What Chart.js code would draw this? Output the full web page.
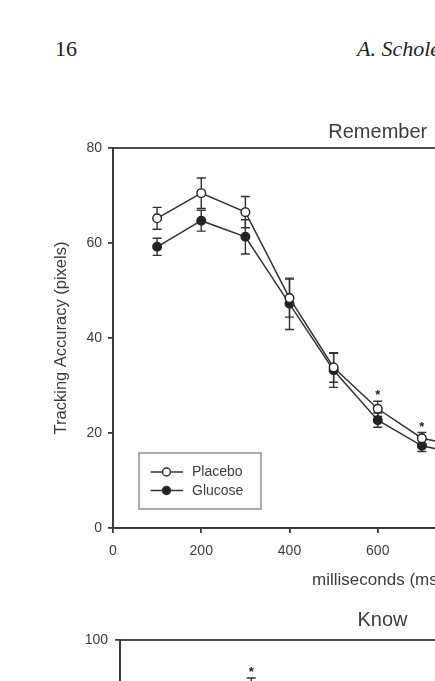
<!DOCTYPE html>
<html>
<head>
<meta charset="utf-8">
<script src="https://cdn.jsdelivr.net/npm/chart.js@4.4.0/dist/chart.umd.min.js"></script>
<style>
    html, body { margin: 0; padding: 0; width: 435px; height: 681px; overflow: hidden; background: #fff; }
    .page-text { position: absolute; font-family: "Liberation Serif", serif; font-size: 22px; line-height: 22px; color: #222; white-space: nowrap; }
    #pageNo { left: 55px; top: 38px; }
    #author { left: 357px; top: 38px; font-style: italic; }
    canvas { position: absolute; left: 0; }
    #rememberCanvas { top: 100px; }
    #knowCanvas { top: 592px; }
</style>
</head>
<body>
<div class="page-text" id="pageNo">16</div>
<div class="page-text" id="author">A. Scholey et al.</div>
<canvas id="rememberCanvas" width="760" height="498"></canvas>
<canvas id="knowCanvas" width="760" height="498"></canvas>
<script>
// Remember panel
var msValues = [100, 200, 300, 400, 500, 600, 700, 800];
var placeboRemember = [65.2, 70.5, 66.5, 48.4, 33.8, 25.1, 18.9, 17.0];
var placeboRememberErr = [2.3, 3.2, 3.3, 4.0, 3.1, 1.6, 1.2, 1.2];
var glucoseRemember = [59.2, 64.7, 61.3, 47.2, 33.2, 22.7, 17.3, 15.3];
var glucoseRememberErr = [1.8, 2.2, 3.6, 5.4, 3.6, 1.5, 1.2, 1.2];
var rememberStars = [600, 700];

// Know panel (only the top of it is on the page)
var knowMs = [300];
var placeboKnow = [86];
var placeboKnowErr = [4];
var knowStars = [300];

var xTicks = [0, 200, 400, 600, 800, 1000, 1200];
var rememberYTicks = [0, 20, 40, 60, 80];
var knowYTicks = [0, 20, 40, 60, 80, 100];

var axisColor = '#3a3a3a';
var textColor = '#3c3c3c';
var lineColor = '#333';
var fontFamily = '"Liberation Sans", Arial, sans-serif';

var toPoints = function (xs, ys) {
    return xs.map(function (x, i) {
        return { x: x, y: ys[i] };
    });
};

// box round the plot
var frame = {
    id: 'frame',
    afterDraw: function (chart) {
        var a = chart.chartArea;
        var ctx = chart.ctx;
        ctx.save();
        ctx.strokeStyle = axisColor;
        ctx.lineWidth = 1.8;
        ctx.strokeRect(a.left, a.top, a.right - a.left, a.bottom - a.top);
        ctx.restore();
    }
};

// error bars and stars
var errorBars = {
    id: 'errorBars',
    beforeDatasetsDraw: function (chart) {
        var ctx = chart.ctx;
        var xs = chart.scales.x, ys = chart.scales.y;
        ctx.save();
        ctx.strokeStyle = lineColor;
        ctx.lineWidth = 1.4;
        chart.data.datasets.forEach(function (ds) {
            if (!ds.errors) return;
            ds.data.forEach(function (p, j) {
                var px = xs.getPixelForValue(p.x);
                var top = ys.getPixelForValue(p.y + ds.errors[j]);
                var bot = ys.getPixelForValue(p.y - ds.errors[j]);
                ctx.beginPath();
                ctx.moveTo(px, top); ctx.lineTo(px, bot);
                ctx.moveTo(px - 4.5, top); ctx.lineTo(px + 4.5, top);
                ctx.moveTo(px - 4.5, bot); ctx.lineTo(px + 4.5, bot);
                ctx.stroke();
            });
        });
        ctx.restore();
    },
    afterDatasetsDraw: function (chart) {
        var ctx = chart.ctx;
        var xs = chart.scales.x, ys = chart.scales.y;
        var stars = chart.options.plugins.errorBars.stars;
        var ds = chart.data.datasets[0];
        ctx.save();
        ctx.fillStyle = '#222';
        ctx.font = 'bold 13px ' + fontFamily;
        ctx.textAlign = 'center';
        ctx.textBaseline = 'alphabetic';
        ds.data.forEach(function (p, j) {
            if (stars.indexOf(p.x) < 0) return;
            var px = xs.getPixelForValue(p.x);
            var top = ys.getPixelForValue(p.y + ds.errors[j]);
            ctx.fillText('*', px, top - 2);
        });
        ctx.restore();
    }
};

// legend box inside the plot
var boxLegend = {
    id: 'boxLegend',
    afterDraw: function (chart) {
        var opts = chart.options.plugins.boxLegend;
        if (!opts.show) return;
        var a = chart.chartArea;
        var ctx = chart.ctx;
        var left = a.left + 26, top = a.top + 305, w = 122, h = 56;
        ctx.save();
        ctx.strokeStyle = '#8a8a8a';
        ctx.lineWidth = 1.4;
        ctx.strokeRect(left, top, w, h);
        ctx.font = '14px ' + fontFamily;
        ctx.textBaseline = 'middle';
        ctx.fillStyle = textColor;
        chart.data.datasets.forEach(function (ds, i) {
            var cy = top + 19 + i * 18.5;
            ctx.strokeStyle = lineColor;
            ctx.lineWidth = 1.5;
            ctx.beginPath();
            ctx.moveTo(left + 11.5, cy); ctx.lineTo(left + 44, cy);
            ctx.stroke();
            ctx.beginPath();
            ctx.arc(left + 27.5, cy, 4, 0, Math.PI * 2);
            ctx.fillStyle = ds.pointBackgroundColor;
            ctx.fill();
            ctx.stroke();
            ctx.fillStyle = textColor;
            ctx.fillText(ds.label, left + 53, cy + 0.5);
        });
        ctx.restore();
    }
};

var makeScales = function (yMax, yTicks, yWidth, yPad) {
    return {
        x: {
            type: 'linear',
            min: 0,
            max: 1200,
            afterBuildTicks: function (s) { s.ticks = xTicks.map(function (v) { return { value: v }; }); },
            ticks: { padding: 10, color: textColor, font: { family: fontFamily, size: 14 }, autoSkip: false, maxRotation: 0 },
            grid: { drawOnChartArea: false, tickLength: 5, color: axisColor, lineWidth: 1.8 },
            border: { color: axisColor, width: 1.8 },
            title: { display: true, text: 'milliseconds (ms)', color: textColor, font: { family: fontFamily, size: 17 }, padding: { top: 0, bottom: 7 } },
            afterFit: function (s) { s.height = 70; }
        },
        y: {
            min: 0,
            max: yMax,
            afterBuildTicks: function (s) { s.ticks = yTicks.map(function (v) { return { value: v }; }); },
            ticks: { padding: yPad, color: textColor, font: { family: fontFamily, size: 14 } },
            grid: { drawOnChartArea: false, tickLength: 5, color: axisColor, lineWidth: 1.8 },
            border: { color: axisColor, width: 1.8 },
            title: { display: true, text: 'Tracking Accuracy (pixels)', color: textColor, font: { family: fontFamily, size: 16.5 }, padding: { top: 52, bottom: 0 } },
            afterFit: function (s) { s.width = yWidth; }
        }
    };
};

var lineStyle = function (label, fill, xs, ys, errs) {
    return {
        label: label,
        data: toPoints(xs, ys),
        errors: errs,
        borderColor: lineColor,
        borderWidth: 1.5,
        pointRadius: 4.3,
        pointBorderWidth: 1.4,
        pointBorderColor: '#222',
        pointBackgroundColor: fill,
        tension: 0
    };
};

window.onload = function () {
    var rememberCtx = document.getElementById('rememberCanvas').getContext('2d');
    window.rememberChart = new Chart(rememberCtx, {
        type: 'line',
        data: {
            datasets: [
                lineStyle('Placebo', '#fff', msValues, placeboRemember, placeboRememberErr),
                lineStyle('Glucose', '#222', msValues, glucoseRemember, glucoseRememberErr)
            ]
        },
        options: {
            responsive: false,
            animation: false,
            layout: { padding: { top: 0, left: 0, right: 117.5, bottom: 0 } },
            scales: makeScales(80, rememberYTicks, 113, 6),
            plugins: {
                legend: { display: false },
                tooltip: { enabled: false },
                title: { display: true, text: 'Remember', fullSize: false, color: textColor, font: { family: fontFamily, size: 20, weight: 'normal' }, padding: { top: 20, bottom: 4 } },
                errorBars: { stars: rememberStars },
                boxLegend: { show: true }
            }
        },
        plugins: [frame, errorBars, boxLegend]
    });

    var knowCtx = document.getElementById('knowCanvas').getContext('2d');
    window.knowChart = new Chart(knowCtx, {
        type: 'line',
        data: {
            datasets: [
                lineStyle('Placebo', '#fff', knowMs, placeboKnow, placeboKnowErr)
            ]
        },
        options: {
            responsive: false,
            animation: false,
            layout: { padding: { top: 0, left: 0, right: 115, bottom: 0 } },
            scales: makeScales(100, knowYTicks, 120, 7),
            plugins: {
                legend: { display: false },
                tooltip: { enabled: false },
                title: { display: true, text: 'Know', fullSize: false, color: textColor, font: { family: fontFamily, size: 20, weight: 'normal' }, padding: { top: 16, bottom: 8 } },
                errorBars: { stars: knowStars },
                boxLegend: { show: false }
            }
        },
        plugins: [frame, errorBars, boxLegend]
    });
};
</script>
</body>
</html>
